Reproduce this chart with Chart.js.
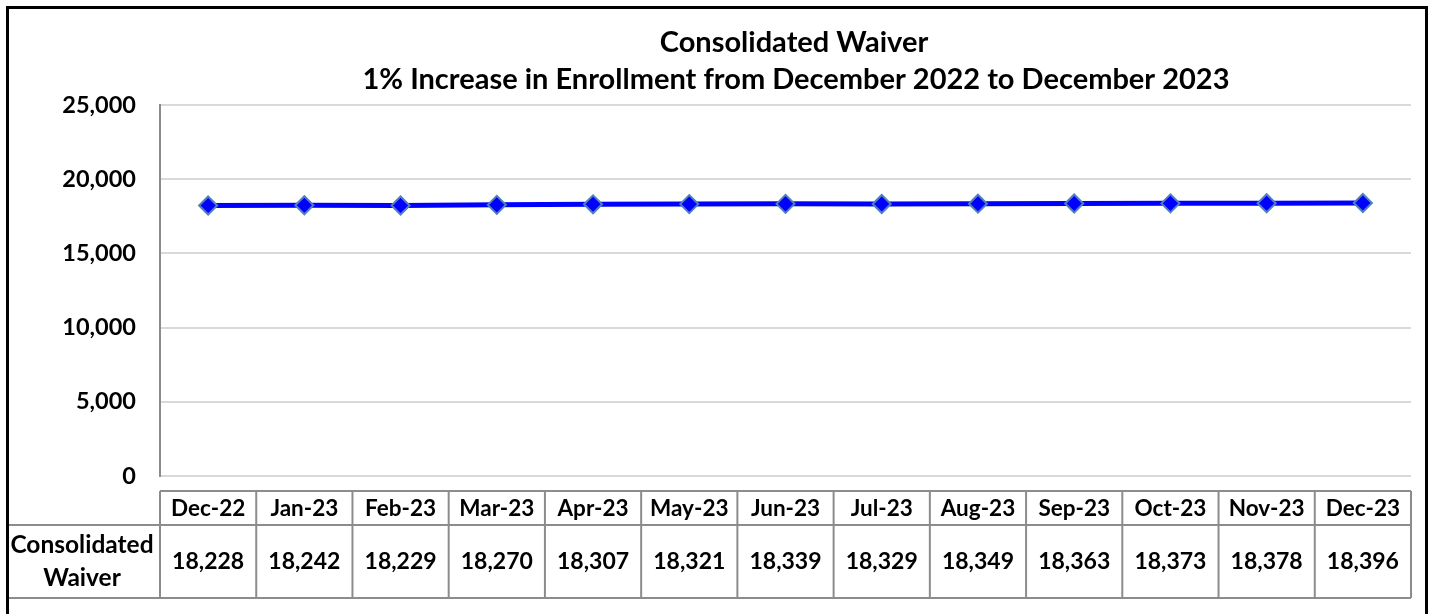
<!DOCTYPE html>
<html>
<head>
<meta charset="utf-8">
<title>Consolidated Waiver</title>
<script src="https://cdn.jsdelivr.net/npm/chart.js@4"></script>
<style>
    body { margin: 0; background: #fff; }
    canvas { display: block; }
</style>
</head>
<body>
<canvas id="myChart" width="1432" height="614"></canvas>
<script>
// chart data
const months = ['Dec-22', 'Jan-23', 'Feb-23', 'Mar-23', 'Apr-23', 'May-23', 'Jun-23',
                'Jul-23', 'Aug-23', 'Sep-23', 'Oct-23', 'Nov-23', 'Dec-23'];
const enrollment = [18228, 18242, 18229, 18270, 18307, 18321, 18339, 18329, 18349, 18363, 18373, 18378, 18396];
const seriesName = ['Consolidated', 'Waiver'];
const titleLines = ['Consolidated Waiver', '1% Increase in Enrollment from December 2022 to December 2023'];
const yTicks = [0, 5000, 10000, 15000, 20000, 25000];

document.addEventListener('DOMContentLoaded', () => {
    const ctx = document.getElementById('myChart').getContext('2d');
    const FONT = 'Lato, "Open Sans", sans-serif';

    // 제목, 아래쪽 데이터 표, 바깥 테두리를 그리는 플러그인
    const dataTable = {
        id: 'dataTable',
        afterDraw(chart) {
            const c = chart.ctx;
            const x = chart.scales.x;
            const area = chart.chartArea;
            const step = (area.right - area.left) / months.length;
            const hTop = 491, hBot = 525, rBot = 598;

            c.save();
            c.fillStyle = '#000';
            c.textAlign = 'center';
            c.textBaseline = 'middle';

            // 제목 (두 줄)
            c.font = 'bold 29px ' + FONT;
            c.fillText(titleLines[0], 794, 43);
            c.fillText(titleLines[1], 796, 80);

            // 표 선
            c.strokeStyle = '#8c8c8c';
            c.lineWidth = 2;
            c.beginPath();
            c.moveTo(area.left, hTop); c.lineTo(area.right, hTop);
            c.moveTo(7, hBot); c.lineTo(area.right, hBot);
            c.moveTo(7, rBot); c.lineTo(area.right, rBot);
            for (let i = 0; i <= months.length; i++) {
                const px = area.left + i * step;
                c.moveTo(px, hTop); c.lineTo(px, rBot);
            }
            c.stroke();

            // 표 글자
            c.font = 'bold 22.5px ' + FONT;
            months.forEach((m, i) => {
                const px = x.getPixelForValue(i);
                c.fillText(m, px, (hTop + hBot) / 2 + 1);
            });
            c.font = 'bold 23px ' + FONT;
            enrollment.forEach((v, i) => {
                c.fillText(v.toLocaleString('en-US'), x.getPixelForValue(i), (hBot + rBot) / 2);
            });
            c.font = 'bold 24.5px ' + FONT;
            c.fillText(seriesName[0], 82, 545);
            c.fillText(seriesName[1], 82, 578);

            // 바깥 검은 테두리
            c.strokeStyle = '#000';
            c.lineWidth = 3;
            c.strokeRect(7.5, 7.5, 1419, 640);
            c.restore();
        }
    };

    new Chart(ctx, {
        type: 'line',
        data: {
            labels: months,
            datasets: [{
                label: seriesName.join(' '),
                data: enrollment,
                borderColor: '#0000ff',
                borderWidth: 5,
                backgroundColor: '#0000ff',
                pointStyle: 'rectRot',
                pointRadius: 9,
                pointHoverRadius: 9,
                pointBackgroundColor: '#0000ff',
                pointBorderColor: '#4f81bd',
                pointBorderWidth: 2,
                tension: 0
            }]
        },
        options: {
            responsive: false,
            animation: false,
            layout: { padding: { top: 105, right: 21, bottom: 138, left: 0 } },
            scales: {
                x: { display: false, offset: true },
                y: {
                    min: 0,
                    max: 25000,
                    afterFit(scale) { scale.width = 160; },
                    afterBuildTicks(scale) { scale.ticks = yTicks.map(v => ({ value: v })); },
                    border: { display: true, color: '#8c8c8c', width: 2 },
                    grid: { color: '#d9d9d9', lineWidth: 2, drawTicks: false },
                    ticks: {
                        padding: 24,
                        color: '#000',
                        font: { family: FONT, size: 23.5, weight: 'bold' },
                        callback: v => v.toLocaleString('en-US')
                    }
                }
            },
            plugins: {
                legend: { display: false },
                tooltip: { enabled: false },
                title: { display: false }
            }
        },
        plugins: [dataTable]
    });
});
</script>
</body>
</html>
